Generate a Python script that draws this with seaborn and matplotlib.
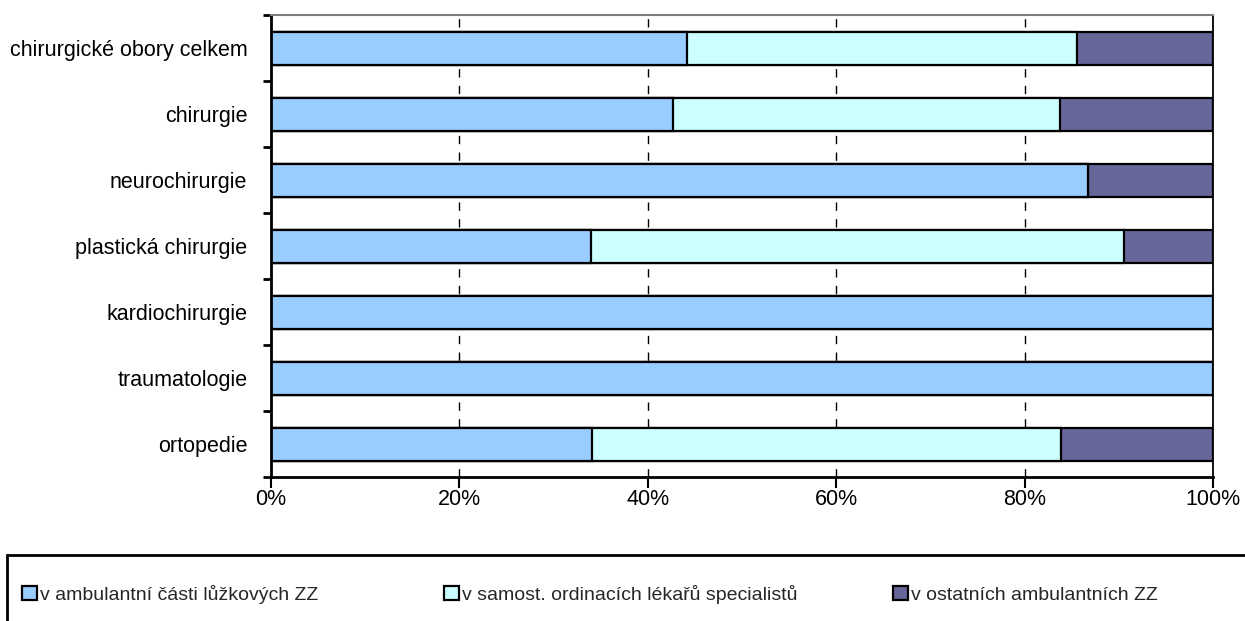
import matplotlib
matplotlib.use("Agg")
import matplotlib.pyplot as plt
import seaborn as sns
import numpy as np
import pandas as pd
from matplotlib.patches import Rectangle, Patch
from matplotlib.ticker import FixedLocator, PercentFormatter

categories = ["chirurgické obory celkem", "chirurgie", "neurochirurgie",
              "plastická chirurgie", "kardiochirurgie", "traumatologie", "ortopedie"]
series_names = ["v ambulantní části lůžkových ZZ",
                "v samost. ordinacích lékařů specialistů",
                "v ostatních ambulantních ZZ"]
lozkove = [44.2, 42.7, 86.7, 34.0, 100.0, 100.0, 34.1]
samost = [41.4, 41.1, 0.0, 56.5, 0.0, 0.0, 49.8]
ostatni = [14.4, 16.2, 13.3, 9.5, 0.0, 0.0, 16.1]
colors = ["#99CCFF", "#CCFFFF", "#666699"]
xticks = [0, 20, 40, 60, 80, 100]

sns.set_theme(style="white")
plt.rcParams["font.family"] = ["Liberation Sans", "DejaVu Sans"]

df = pd.DataFrame({"kat": categories, "a": lozkove, "b": samost, "c": ostatni})
df["c1"] = df["a"]
df["c2"] = df["a"] + df["b"]
df["c3"] = df["a"] + df["b"] + df["c"]

fig = plt.figure(figsize=(12.45, 6.21), dpi=100)
ax = fig.add_axes([271/1245, 1-477/621, (1213-271)/1245, (477-15)/621])

for col, colr in zip(["c3", "c2", "c1"], colors[::-1]):
    sns.barplot(data=df, x=col, y="kat", orient="h", color=colr, width=0.5,
                edgecolor="black", linewidth=1.6, ax=ax, zorder=3, saturation=1)

ax.set_xlim(0, 100)
ax.set_ylim(len(categories) - 0.5, -0.5)
ax.set_xlabel("")
ax.set_ylabel("")
ax.set_xticks(xticks)
ax.xaxis.set_major_formatter(PercentFormatter(decimals=0))
ax.grid(False)
for xv in xticks[1:-1]:
    ax.axvline(xv, color="black", lw=1, linestyle=(0, (6, 6)), zorder=1)

ax.yaxis.set_minor_locator(FixedLocator(np.arange(-0.5, len(categories), 1.0)))
ax.tick_params(axis="y", which="major", length=0, pad=17, labelsize=15.5, colors="black")
ax.tick_params(axis="y", which="minor", left=True, length=6, width=2, color="black", direction="out")
ax.tick_params(axis="x", which="major", bottom=True, length=8, width=1.5, color="black",
               direction="out", pad=0.5, labelsize=15.5, labelcolor="black")

for s in ["left", "bottom"]:
    ax.spines[s].set_color("black")
    ax.spines[s].set_linewidth(2)
ax.spines["right"].set_color("black")
ax.spines["right"].set_linewidth(1.3)
ax.spines["top"].set_color("#808080")
ax.spines["top"].set_linewidth(1.5)
for s in ax.spines.values():
    s.set_zorder(5)

# legend box
fig.add_artist(Rectangle((7/1245, -0.05), 1.1, (621-555)/621 + 0.05,
                         transform=fig.transFigure, fill=False, lw=2,
                         ec="black", clip_on=False))
xs = [22, 444, 893]
for name, colr, x0 in zip(series_names, colors, xs):
    h = Patch(facecolor=colr, edgecolor="black", linewidth=1.6)
    fig.legend(handles=[h], labels=[name], loc="lower left",
               bbox_to_anchor=(x0/1245, 1-604/621), frameon=False,
               borderaxespad=0, borderpad=0, handlelength=0.75, handleheight=0.75,
               handletextpad=0.2, fontsize=14)

fig.savefig("out.png", dpi=100)
